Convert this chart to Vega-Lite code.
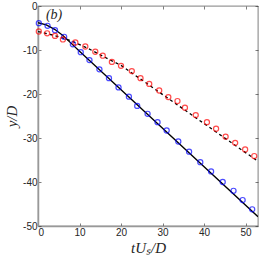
{
  "$schema": "https://vega.github.io/schema/vega-lite/v6.json",
  "autosize": "none",
  "width": 220,
  "height": 220,
  "padding": {"left": 38, "top": 6, "right": 1, "bottom": 34},
  "background": "white",
  "config": {
    "view": {"stroke": "#262626", "strokeWidth": 0.6},
    "axis": {
      "grid": false,
      "domainColor": "#262626",
      "domainWidth": 0.6,
      "tickColor": "#262626",
      "tickSize": -3,
      "tickWidth": 0.6,
      "labelFont": "Liberation Sans",
      "labelFontSize": 10,
      "labelColor": "#262626",
      "titleFont": "Liberation Serif",
      "titleFontStyle": "italic",
      "titleFontWeight": "normal",
      "titleFontSize": 15,
      "titleColor": "#262626"
    }
  },
  "datasets": {
    "blue": [
      {"x": 0.2, "y": -3.9}, {"x": 2.3, "y": -4.5}, {"x": 4.1, "y": -5.5}, {"x": 6.3, "y": -7.0},
      {"x": 8.4, "y": -8.7}, {"x": 10.3, "y": -10.5}, {"x": 12.4, "y": -12.3}, {"x": 14.8, "y": -14.4},
      {"x": 17.1, "y": -16.4}, {"x": 19.4, "y": -18.5}, {"x": 21.9, "y": -20.6}, {"x": 23.9, "y": -22.7},
      {"x": 26.4, "y": -24.5}, {"x": 28.8, "y": -26.4}, {"x": 31.0, "y": -28.3}, {"x": 33.8, "y": -30.8},
      {"x": 36.4, "y": -33.1}, {"x": 39.1, "y": -35.5}, {"x": 41.7, "y": -37.6}, {"x": 44.5, "y": -40.0},
      {"x": 47.1, "y": -42.0}, {"x": 49.3, "y": -44.1}, {"x": 51.6, "y": -46.2}
    ],
    "red": [
      {"x": 0.2, "y": -5.8}, {"x": 2.2, "y": -6.2}, {"x": 4.1, "y": -6.8}, {"x": 6.0, "y": -7.6},
      {"x": 9.0, "y": -8.3}, {"x": 11.4, "y": -9.2}, {"x": 13.8, "y": -10.4}, {"x": 15.6, "y": -11.3},
      {"x": 17.8, "y": -12.7}, {"x": 20.0, "y": -13.6}, {"x": 22.6, "y": -14.8}, {"x": 24.7, "y": -16.4},
      {"x": 26.8, "y": -17.7}, {"x": 29.2, "y": -19.2}, {"x": 31.4, "y": -20.7}, {"x": 33.6, "y": -21.6},
      {"x": 35.4, "y": -23.1}, {"x": 38.0, "y": -24.8}, {"x": 40.7, "y": -26.4}, {"x": 42.9, "y": -27.9},
      {"x": 45.2, "y": -29.7}, {"x": 47.5, "y": -31.1}, {"x": 49.9, "y": -32.6}, {"x": 52.1, "y": -34.1}
    ],
    "solid": [
      {"x": 0, "y": -3.8}, {"x": 2, "y": -4.3}, {"x": 4, "y": -5.3}, {"x": 6, "y": -6.7},
      {"x": 8, "y": -8.5}, {"x": 10, "y": -10.3}, {"x": 53, "y": -47.9}
    ],
    "dashed": [
      {"x": 0, "y": -5.8}, {"x": 4, "y": -6.7}, {"x": 8, "y": -7.9}, {"x": 12, "y": -9.6},
      {"x": 16, "y": -11.6}, {"x": 20, "y": -13.5}, {"x": 53, "y": -35.3}
    ]
  },
  "layer": [
    {
      "data": {"name": "solid"},
      "mark": {"type": "line", "color": "black", "strokeWidth": 1.3, "clip": true},
      "encoding": {
        "x": {"field": "x", "type": "quantitative", "scale": {"domain": [0, 53], "nice": false},
          "axis": {"values": [0, 10, 20, 30, 40, 50], "title": "tUₛ/D", "titlePadding": 3, "labelPadding": 4, "domainColor": "#999", "domainWidth": 1.5}},
        "y": {"field": "y", "type": "quantitative", "scale": {"domain": [-50, 0], "nice": false},
          "axis": {"values": [0, -10, -20, -30, -40, -50], "labelExpr": "datum.value + ''", "title": "y/D", "titlePadding": 3, "labelPadding": 4, "domainColor": "#999", "domainWidth": 1.5}}
      }
    },
    {
      "data": {"name": "dashed"},
      "mark": {"type": "line", "color": "black", "strokeWidth": 1.3, "strokeDash": [3, 3], "clip": true},
      "encoding": {
        "x": {"field": "x", "type": "quantitative", "axis": {"orient": "top", "values": [0, 10, 20, 30, 40, 50], "labels": false, "title": null, "domain": false}},
        "y": {"field": "y", "type": "quantitative", "axis": {"orient": "right", "values": [0, -10, -20, -30, -40, -50], "labels": false, "title": null, "domain": false}}
      }
    },
    {
      "data": {"name": "blue"},
      "mark": {"type": "point", "shape": "circle", "filled": false, "color": "#0000ff", "size": 26, "strokeWidth": 1.2},
      "encoding": {
        "x": {"field": "x", "type": "quantitative", "axis": null},
        "y": {"field": "y", "type": "quantitative", "axis": null}
      }
    },
    {
      "data": {"name": "red"},
      "mark": {"type": "point", "shape": "circle", "filled": false, "color": "#ff0000", "size": 26, "strokeWidth": 1.2},
      "encoding": {
        "x": {"field": "x", "type": "quantitative", "axis": null},
        "y": {"field": "y", "type": "quantitative", "axis": null}
      }
    },
    {
      "data": {"values": [{"x": 1.9, "y": -2.1, "t": "(b)"}]},
      "mark": {"type": "text", "font": "Liberation Serif", "fontStyle": "italic", "fontSize": 14, "align": "left", "baseline": "middle", "color": "#262626"},
      "encoding": {
        "x": {"field": "x", "type": "quantitative", "axis": null},
        "y": {"field": "y", "type": "quantitative", "axis": null},
        "text": {"field": "t"}
      }
    }
  ],
  "resolve": {"axis": {"x": "independent", "y": "independent"}}
}
